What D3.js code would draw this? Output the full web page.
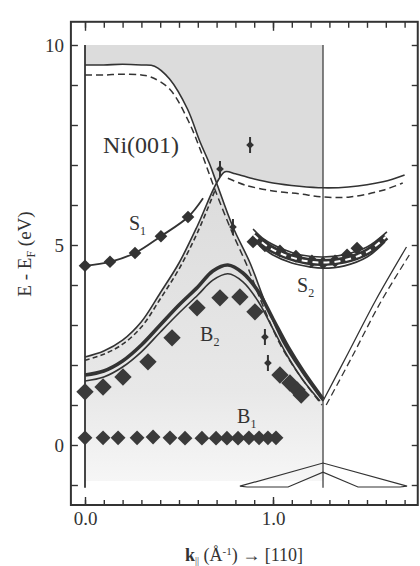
<!DOCTYPE html>
<html>
<head>
<meta charset="utf-8">
<script src="https://cdn.jsdelivr.net/npm/d3@7"></script>
<style>
body { margin:0; background:#fff; }
text { font-family: "Liberation Serif", "Times New Roman", serif; fill:#333; }
</style>
</head>
<body>
<div id="chart-area"></div>
<script>
// k (1/A) and E - E_F (eV)

// bulk band edges, solid = majority, dashed = minority
var kUpper = [0, 0.1, 0.2, 0.3, 0.37, 0.45, 0.545, 0.61, 0.665, 0.70, 0.787, 0.878, 0.96, 1.05, 1.15, 1.266];
var eUpper = [9.5, 9.5, 9.52, 9.5, 9.47, 9.15, 8.4, 7.6, 7.0, 6.55, 5.45, 4.55, 3.55, 2.6, 1.85, 1.1];
var kUpperD = [0, 0.1, 0.2, 0.3, 0.35, 0.45, 0.55, 0.62, 0.69, 0.775, 0.865, 0.945, 1.04, 1.14, 1.26];
var eUpperD = [9.25, 9.25, 9.27, 9.25, 9.2, 8.9, 8.1, 7.3, 6.4, 5.4, 4.45, 3.5, 2.5, 1.75, 1.0];

var kRise = [0, 0.1, 0.2, 0.3, 0.4, 0.5, 0.6, 0.70, 0.745, 0.8, 0.9, 1.0, 1.14, 1.266, 1.4, 1.585, 1.70];
var eRise = [2.2, 2.35, 2.62, 3.08, 3.8, 4.55, 5.5, 6.55, 6.83, 6.78, 6.65, 6.55, 6.47, 6.43, 6.45, 6.58, 6.75];
var kRiseD = [0, 0.1, 0.2, 0.3, 0.4, 0.5, 0.6, 0.69];
var eRiseD = [2.12, 2.27, 2.52, 2.95, 3.65, 4.4, 5.33, 6.35];
var kRightD = [0.76, 0.85, 1.0, 1.14, 1.266, 1.41, 1.585, 1.69];
var eRightD = [6.67, 6.5, 6.35, 6.28, 6.2, 6.2, 6.37, 6.55];

var kV = [1.266, 1.4, 1.55, 1.71];
var eV = [1.1, 2.3, 3.65, 4.95];
var kVD = [1.283, 1.42, 1.57, 1.725];
var eVD = [1.0, 2.2, 3.55, 4.75];

// B2 theory (thick and thin)
var kB2T = [0, 0.1, 0.2, 0.3, 0.4, 0.5, 0.6, 0.68, 0.76, 0.84, 0.92, 1.0, 1.08, 1.16, 1.266];
var eB2T = [1.75, 1.85, 2.1, 2.5, 3.0, 3.5, 3.95, 4.35, 4.5, 4.3, 3.85, 3.15, 2.45, 1.85, 1.15];
var kB2t = [0, 0.1, 0.2, 0.3, 0.4, 0.5, 0.6, 0.68, 0.76, 0.84, 0.92, 1.0, 1.08, 1.16, 1.25];
var eB2t = [1.6, 1.7, 1.95, 2.33, 2.82, 3.3, 3.75, 4.12, 4.28, 4.08, 3.6, 2.9, 2.2, 1.62, 1.1];

// S2 theory
var kS2a = [0.894, 0.95, 1.05, 1.15, 1.266, 1.38, 1.5, 1.606];
var eS2a = [5.4, 5.15, 4.9, 4.75, 4.7, 4.76, 4.95, 5.33];
var kS2b = [0.9, 1.0, 1.1, 1.2, 1.266, 1.38, 1.5, 1.595];
var eS2b = [5.1, 4.75, 4.55, 4.45, 4.42, 4.48, 4.7, 5.08];

// measured peaks
var kS1 = [0, 0.133, 0.266, 0.404, 0.548];
var eS1 = [4.48, 4.58, 4.8, 5.22, 5.7];
var kS1Line = [0, 0.133, 0.266, 0.404, 0.548, 0.628];
var eS1Line = [4.48, 4.58, 4.8, 5.22, 5.7, 6.17];

var kS2 = [0.894, 0.957, 1.037, 1.122, 1.207, 1.266, 1.33, 1.394, 1.447];
var eS2 = [5.08, 4.98, 4.85, 4.72, 4.6, 4.55, 4.6, 4.75, 4.92];

var kB2 = [0, 0.096, 0.202, 0.335, 0.463, 0.596, 0.718, 0.824, 0.904, 1.037, 1.09, 1.128, 1.15];
var eB2 = [1.33, 1.45, 1.7, 2.08, 2.68, 3.43, 3.68, 3.7, 3.33, 1.75, 1.55, 1.38, 1.25];

var kB1 = [0, 0.096, 0.176, 0.277, 0.362, 0.452, 0.532, 0.622, 0.697, 0.755, 0.814, 0.872, 0.926, 0.973, 1.016];
var eB1 = [0.18, 0.18, 0.18, 0.18, 0.2, 0.18, 0.17, 0.17, 0.17, 0.17, 0.17, 0.18, 0.18, 0.18, 0.18];

// weak peaks with error bars
var kErr = [0.718, 0.878, 0.787, 0.957, 0.973];
var eErr = [6.9, 7.5, 5.45, 2.7, 2.05];

// little zone sketch at the bottom
var kHat = [0.824, 1.266, 1.713, 1.676, 1.452, 1.266, 1.08, 0.862];
var eHat = [-1.03, -0.45, -1.03, -1.05, -1.05, -0.68, -1.05, -1.05];

var kLines = [0, 1.266];
var kTicks = d3.range(0, 18).map(function(i){ return i / 10; });
var eTicks = d3.range(-1, 11);

var kMin = -0.075, kMax = 1.77, eMin = -1.5, eMax = 10.58;

var svg = d3.select("#chart-area")
	.append("svg")
		.attr("width", 420)
		.attr("height", 566);

var x = d3.scaleLinear().domain([0, 1]).range([85, 273]);
var y = d3.scaleLinear().domain([0, 10]).range([445, 45]);

var ink = "#333";

var line = d3.line()
	.x(function(d){ return x(d[0]); })
	.y(function(d){ return y(d[1]); })
	.curve(d3.curveCatmullRom.alpha(0.5));
var poly = d3.line()
	.x(function(d){ return x(d[0]); })
	.y(function(d){ return y(d[1]); });

var defs = svg.append("defs");
var grad = defs.append("linearGradient").attr("id", "fade")
	.attr("x1", 0).attr("y1", 0).attr("x2", 0).attr("y2", 1);
grad.append("stop").attr("offset", "0%").attr("stop-color", "#dcdcdc");
grad.append("stop").attr("offset", "70%").attr("stop-color", "#e8e8e8");
grad.append("stop").attr("offset", "100%").attr("stop-color", "#f6f6f6");

// shaded projected bulk bands
var topShade = [[0, 10], [1.266, 10]];
for (var i = 13; i >= 7; i--) topShade.push([kRise[i], eRise[i]]);
for (var i = 9; i >= 0; i--) topShade.push([kUpper[i], eUpper[i]]);
svg.append("path").attr("d", poly(topShade) + "Z").attr("fill", "#dcdcdc");

var lowShade = [];
for (var i = 0; i <= 7; i++) lowShade.push([kRise[i], eRise[i]]);
for (var i = 10; i < kUpper.length; i++) lowShade.push([kUpper[i], eUpper[i]]);
lowShade.push([1.266, -0.9]);
lowShade.push([0, -0.9]);
svg.append("path").attr("d", poly(lowShade) + "Z").attr("fill", "url(#fade)");

// vertical lines at Gamma and X
svg.selectAll(".vline").data(kLines).enter().append("line")
	.attr("x1", function(d){ return x(d); })
	.attr("x2", function(d){ return x(d); })
	.attr("y1", y(10))
	.attr("y2", y(-1.07))
	.attr("stroke", ink)
	.attr("stroke-width", function(d){ return d === 0 ? 1.8 : 1.2; });

function draw(ks, es, w, dash, col) {
	svg.append("path")
		.attr("d", line(d3.zip(ks, es)))
		.attr("fill", "none")
		.attr("stroke", col || ink)
		.attr("stroke-width", w)
		.attr("stroke-dasharray", dash || null);
}

function diamonds(ks, es, size, col) {
	svg.append("g").selectAll("path").data(d3.zip(ks, es)).enter().append("path")
		.attr("d", d3.symbol().type(d3.symbolSquare).size(size))
		.attr("transform", function(d){ return "translate(" + x(d[0]) + "," + y(d[1]) + ") rotate(45)"; })
		.attr("fill", col);
}

draw(kUpper, eUpper, 1.6);
draw(kUpperD, eUpperD, 1.5, "7,4");
draw(kRise, eRise, 1.6);
draw(kRiseD, eRiseD, 1.6, "5,3");
draw(kRightD, eRightD, 1.5, "7,4");
draw(kV, eV, 1.3);
draw(kVD, eVD, 1.3, "7,4");

// B2 measured
diamonds(kB2, eB2, 150, "#3a3a3a");
draw(kB2T, eB2T, 3.6);
draw(kB2t, eB2t, 1.6);

// S2 measured + theory
diamonds(kS2, eS2, 85, "#333");
var kS2m = kS2a.map(function(k, i){ return (k + kS2b[i]) / 2; });
var eS2m = eS2a.map(function(e, i){ return (e + eS2b[i]) / 2; });
draw(kS2m, eS2m, 7, null, "#333");
draw(kS2m, eS2m, 2, "6,5", "#fff");
draw(kS2a, eS2a, 1.6);
draw(kS2b, eS2b, 1.8);

// S1
draw(kS1Line, eS1Line, 1.8);
diamonds(kS1, eS1, 80, "#333");

// B1
diamonds(kB1, eB1, 110, "#3a3a3a");

// weak peaks
var errs = svg.selectAll(".err").data(d3.zip(kErr, eErr)).enter().append("g")
	.attr("transform", function(d){ return "translate(" + x(d[0]) + "," + y(d[1]) + ")"; });
errs.append("line").attr("y1", -8).attr("y2", 8).attr("stroke", ink).attr("stroke-width", 2);
errs.append("path")
	.attr("d", d3.symbol().type(d3.symbolSquare).size(30))
	.attr("transform", "rotate(45)")
	.attr("fill", "#333");

// zone sketch
svg.append("path").attr("d", poly(d3.zip(kHat, eHat)) + "Z")
	.attr("fill", "none").attr("stroke", ink).attr("stroke-width", 1.2);

// frame
svg.append("rect")
	.attr("x", x(kMin)).attr("y", y(eMax))
	.attr("width", x(kMax) - x(kMin)).attr("height", y(eMin) - y(eMax))
	.attr("fill", "none").attr("stroke", ink).attr("stroke-width", 2);

function clean(g) {
	g.select(".domain").remove();
	g.selectAll("line").attr("stroke", ink).attr("stroke-width", 1.4);
	g.selectAll("text").attr("font-size", "19px").attr("font-family", "Liberation Serif, serif").attr("fill", ink);
}

svg.append("g").attr("transform", "translate(0," + y(eMin) + ")")
	.call(d3.axisBottom(x).tickValues(kTicks).tickSize(-5).tickFormat(""))
	.call(clean);
svg.append("g").attr("transform", "translate(0," + y(eMin) + ")")
	.call(d3.axisBottom(x).tickValues([0, 1]).tickSize(-8).tickPadding(7).tickFormat(d3.format(".1f")))
	.call(clean);
svg.append("g").attr("transform", "translate(0," + y(eMax) + ")")
	.call(d3.axisTop(x).tickValues(kTicks).tickSize(-6).tickFormat(""))
	.call(clean);
svg.append("g").attr("transform", "translate(0," + y(eMax) + ")")
	.call(d3.axisTop(x).tickValues([0, 1]).tickSize(-9).tickFormat(""))
	.call(clean);
svg.append("g").attr("transform", "translate(" + x(kMin) + ",0)")
	.call(d3.axisLeft(y).tickValues(eTicks).tickSize(-7).tickPadding(7)
		.tickFormat(function(d){ return d % 5 === 0 ? d : ""; }))
	.call(clean);
svg.append("g").attr("transform", "translate(" + x(kMax) + ",0)")
	.call(d3.axisRight(y).tickValues(eTicks).tickSize(-6).tickFormat(""))
	.call(clean);

// labels
svg.append("text").attr("x", x(0.096)).attr("y", y(7.3))
	.attr("font-size", "24px").text("Ni(001)");

function label(k, e, main, sub) {
	var t = svg.append("text").attr("x", x(k)).attr("y", y(e)).attr("font-size", "20px");
	t.append("tspan").text(main);
	t.append("tspan").attr("font-size", "12px").attr("dy", 5).text(sub);
}
label(0.234, 5.375, "S", "1");
label(0.612, 2.6, "B", "2");
label(1.128, 3.825, "S", "2");
label(0.809, 0.55, "B", "1");

var xt = svg.append("text").attr("x", 244).attr("y", 561)
	.attr("text-anchor", "middle").attr("font-size", "18px");
xt.append("tspan").attr("font-weight", "bold").text("k");
xt.append("tspan").attr("font-size", "10px").attr("dy", 3).text("||");
xt.append("tspan").attr("dy", -3).text(" (Å");
xt.append("tspan").attr("font-size", "11px").attr("dy", -6).text("-1");
xt.append("tspan").attr("dy", 6).text(")  \u2192  [110]");

var yt = svg.append("text")
	.attr("transform", "translate(31,254) rotate(-90)")
	.attr("text-anchor", "middle").attr("font-size", "19px");
yt.append("tspan").text("E - E");
yt.append("tspan").attr("font-size", "12px").attr("dy", 4).text("F");
yt.append("tspan").attr("dy", -4).text(" (eV)");
</script>
</body>
</html>
